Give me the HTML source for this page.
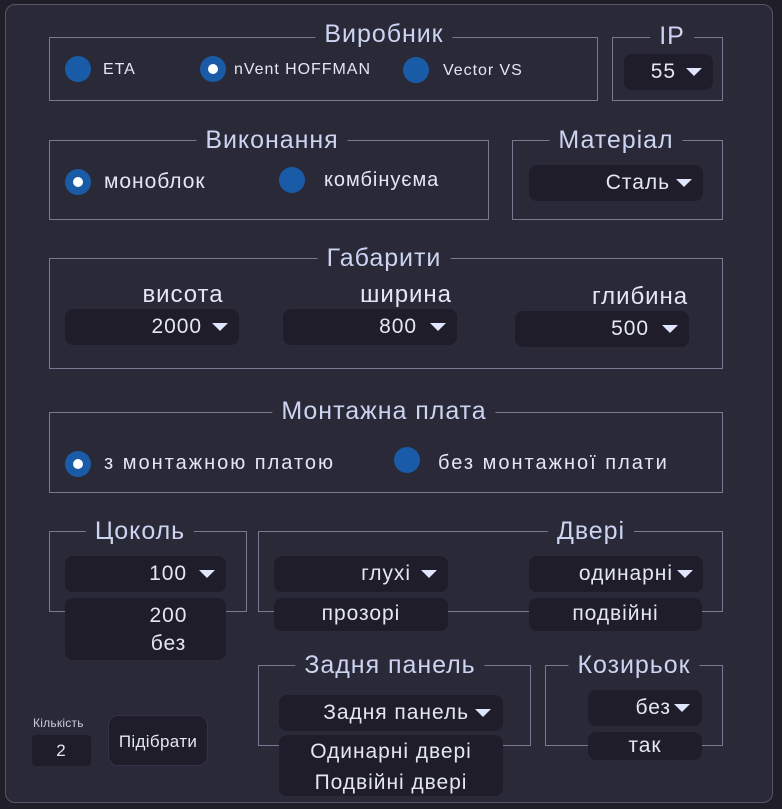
<!DOCTYPE html>
<html><head><meta charset="utf-8"><style>
*{margin:0;padding:0;box-sizing:border-box}
body{width:782px;height:809px;background:#1f1e29;font-family:"Liberation Sans","DejaVu Sans",sans-serif;color:#e4e7f3;position:relative;overflow:hidden;letter-spacing:0.06em}
.panel{position:absolute;left:5px;top:4px;width:768px;height:799px;background:#2a2938;border:1px solid #54556a;border-radius:10px}
.fs{position:absolute;border:1.5px solid #777a90}
.t{position:absolute;font-size:25px;color:#ccd4f1;background:#2a2938;padding:0 9px;line-height:28px;white-space:nowrap;transform:translateX(-50%)}
.dd{position:absolute;background:#1e1d29;border-radius:8px;font-size:21px;display:flex;align-items:center;justify-content:flex-end;white-space:nowrap}
.ar{display:inline-block;width:0;height:0;border-left:8px solid transparent;border-right:8px solid transparent;border-top:8px solid #dfe5fc;margin-left:10px}
.lst{position:absolute;background:#1e1d29;border-radius:8px;font-size:21px;text-align:center;line-height:28px}
.r{position:absolute;width:26px;height:26px;border-radius:50%;background:#1a5ba8}
.r.s::after{content:"";position:absolute;left:8px;top:8px;width:10px;height:10px;border-radius:50%;background:#fff}
.l{position:absolute;white-space:nowrap}
.lb{position:absolute;font-size:24px;color:#e4e7f3;transform:translateX(-50%);white-space:nowrap}
</style></head><body>
<div class="panel"></div>

<div class="fs" style="left:49px;top:37px;width:549px;height:64px"></div>
<div class="t" style="left:384px;top:20px">Виробник</div>
<div class="r" style="left:65px;top:56px"></div><div class="l" style="left:103px;top:61px;font-size:16px">ETA</div>
<div class="r s" style="left:200px;top:56px"></div><div class="l" style="left:234px;top:61px;font-size:16px">nVent HOFFMAN</div>
<div class="r" style="left:403px;top:57px"></div><div class="l" style="left:443px;top:62px;font-size:16px">Vector VS</div>

<div class="fs" style="left:612px;top:37px;width:111px;height:64px"></div>
<div class="t" style="left:672px;top:22px">IP</div>
<div class="dd" style="left:624px;top:54px;width:89px;height:36px;padding-right:11px">55<span class="ar"></span></div>

<div class="fs" style="left:49px;top:140px;width:440px;height:80px"></div>
<div class="t" style="left:272px;top:126px">Виконання</div>
<div class="r s" style="left:65px;top:169px"></div><div class="l" style="left:104px;top:170px;font-size:21px">моноблок</div>
<div class="r" style="left:279px;top:167px"></div><div class="l" style="left:324px;top:169px;font-size:20px">комбінуєма</div>

<div class="fs" style="left:512px;top:140px;width:211px;height:80px"></div>
<div class="t" style="left:616px;top:126px">Матеріал</div>
<div class="dd" style="left:529px;top:165px;width:174px;height:36px;padding-right:11px">Сталь<span class="ar" style="margin-left:6px"></span></div>

<div class="fs" style="left:49px;top:258px;width:674px;height:111px"></div>
<div class="t" style="left:384px;top:244px">Габарити</div>
<div class="lb" style="left:183px;top:281px">висота</div>
<div class="lb" style="left:406px;top:281px">ширина</div>
<div class="lb" style="left:640px;top:283px">глибина</div>
<div class="dd" style="left:65px;top:309px;width:174px;height:36px;padding-right:11px">2000<span class="ar"></span></div>
<div class="dd" style="left:283px;top:309px;width:174px;height:36px;padding-right:11px">800<span class="ar" style="margin-left:13px"></span></div>
<div class="dd" style="left:515px;top:311px;width:174px;height:36px;padding-right:11px">500<span class="ar" style="margin-left:13px"></span></div>

<div class="fs" style="left:49px;top:412px;width:674px;height:81px"></div>
<div class="t" style="left:384px;top:397px">Монтажна плата</div>
<div class="r s" style="left:65px;top:451px"></div><div class="l" style="left:104px;top:452px;font-size:20px;letter-spacing:0.1em">з монтажною платою</div>
<div class="r" style="left:394px;top:447px"></div><div class="l" style="left:438px;top:452px;font-size:20px;letter-spacing:0.1em">без монтажної плати</div>

<div class="fs" style="left:49px;top:531px;width:198px;height:81px"></div>
<div class="t" style="left:140px;top:517px">Цоколь</div>
<div class="dd" style="left:65px;top:556px;width:161px;height:36px;padding-right:11px">100<span class="ar" style="margin-left:12px"></span></div>
<div class="lst" style="left:65px;top:598px;width:161px;height:62px;padding-top:4px;padding-left:46px">200<br>без</div>

<div class="fs" style="left:258px;top:531px;width:465px;height:81px"></div>
<div class="t" style="left:591px;top:517px">Двері</div>
<div class="dd" style="left:274px;top:556px;width:174px;height:36px;padding-right:11px">глухі<span class="ar"></span></div>
<div class="lst" style="left:274px;top:598px;width:174px;height:33px;line-height:32px">прозорі</div>
<div class="dd" style="left:529px;top:556px;width:174px;height:36px;padding-right:10px">одинарні<span class="ar" style="margin-left:4px"></span></div>
<div class="lst" style="left:529px;top:598px;width:173px;height:33px;line-height:32px">подвійні</div>

<div class="fs" style="left:258px;top:665px;width:273px;height:81px"></div>
<div class="t" style="left:390px;top:651px">Задня панель</div>
<div class="dd" style="left:279px;top:695px;width:224px;height:36px;padding-right:12px">Задня панель<span class="ar" style="margin-left:6px"></span></div>
<div class="lst" style="left:279px;top:735px;width:224px;height:61px;padding-top:1px;line-height:31px">Одинарні двері<br>Подвійні двері</div>

<div class="fs" style="left:545px;top:665px;width:178px;height:81px"></div>
<div class="t" style="left:634px;top:651px">Козирьок</div>
<div class="dd" style="left:588px;top:690px;width:114px;height:36px;padding-right:12px">без<span class="ar" style="margin-left:3px"></span></div>
<div class="lst" style="left:588px;top:732px;width:114px;height:28px">так</div>

<div class="l" style="left:33px;top:716px;font-size:12px;color:#c9ccd8;letter-spacing:0.02em">Кількість</div>
<div class="lst" style="left:32px;top:735px;width:59px;height:31px;font-size:17px;line-height:31px;border-radius:4px">2</div>
<div class="lst" style="left:108px;top:715px;width:100px;height:51px;font-size:17px;line-height:51px;border:1px solid #34334a;border-radius:10px;letter-spacing:0.02em">Підібрати</div>
</body></html>
